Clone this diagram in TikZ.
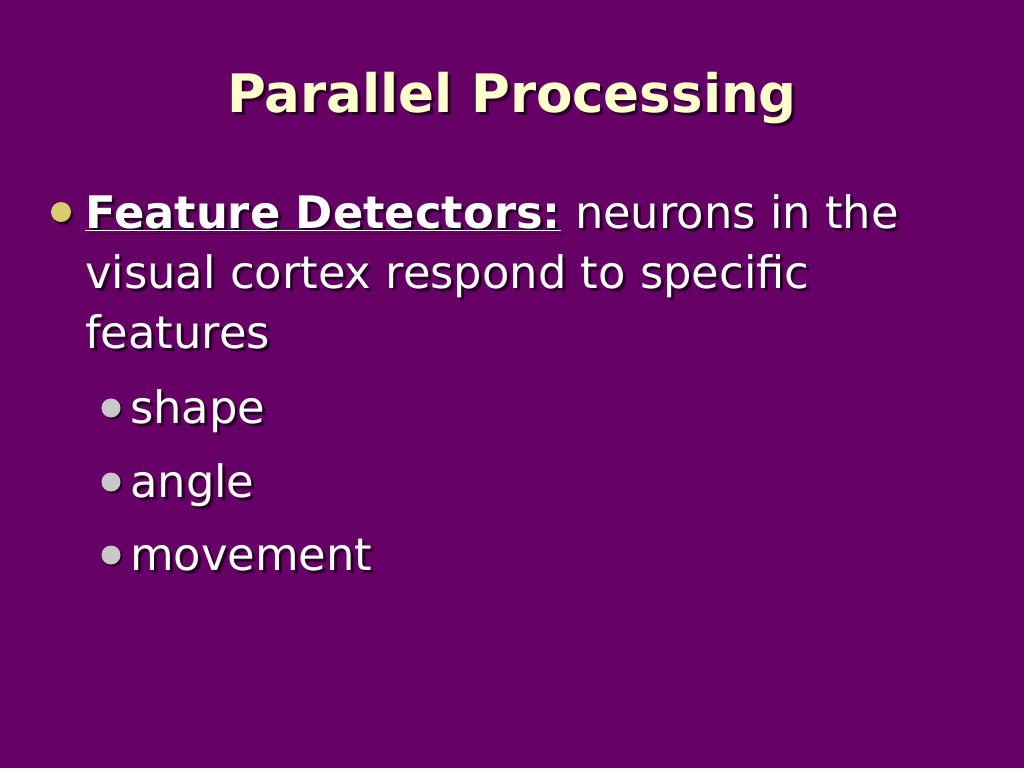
\documentclass[tikz,border=0pt]{standalone}
\usepackage{fontspec}
\setmainfont{DejaVu Sans}
\usepackage{xcolor}
\definecolor{bg}{HTML}{660066}
\definecolor{ttl}{HTML}{FFFFCC}
\definecolor{shd}{HTML}{2A002A}
\definecolor{yb}{HTML}{D9CC6E}
\definecolor{gb}{HTML}{C8C8C8}
\begin{document}
\begin{tikzpicture}[x=1pt,y=1pt,
  txt/.style={anchor=base west,inner sep=0pt,font=\fontsize{44.8}{50}\selectfont,text=white},
  sh/.style={anchor=base west,inner sep=0pt,font=\fontsize{44.8}{50}\selectfont,text=shd}]
\fill[bg] (0,0) rectangle (1024,-768);
\useasboundingbox (0,0) rectangle (1024,-768);
% title
\node[anchor=base,inner sep=0pt,font=\bfseries\fontsize{53}{56}\selectfont,text=shd] at (515,-115) {Parallel Processing};
\node[anchor=base,inner sep=0pt,font=\bfseries\fontsize{53}{56}\selectfont,text=ttl] (title) at (512,-112) {Parallel Processing};
% main bullet
\fill[shd] (63,-215) circle (10);
\fill[yb] (61,-212) circle (10);
\newcommand\shline[3]{%
  \node[sh] at (#1+3,#2-3) {#3};
  \node[txt] at (#1,#2) {#3};}
\shline{85}{-228}{\textbf{\underline{Feature Detectors:}} neurons in the}
\shline{85}{-288}{visual cortex respond to specific}
\shline{85}{-348}{features}
\foreach \y/\t in {-423/shape,-497/angle,-570/movement}{
  \fill[shd] (113,\y+13) circle (9.5);
  \fill[gb] (111,\y+15) circle (9.5);
  \node[sh] at (133,\y-3) {\t};
  \node[txt] at (130,\y) {\t};
}
\end{tikzpicture}
\end{document}
